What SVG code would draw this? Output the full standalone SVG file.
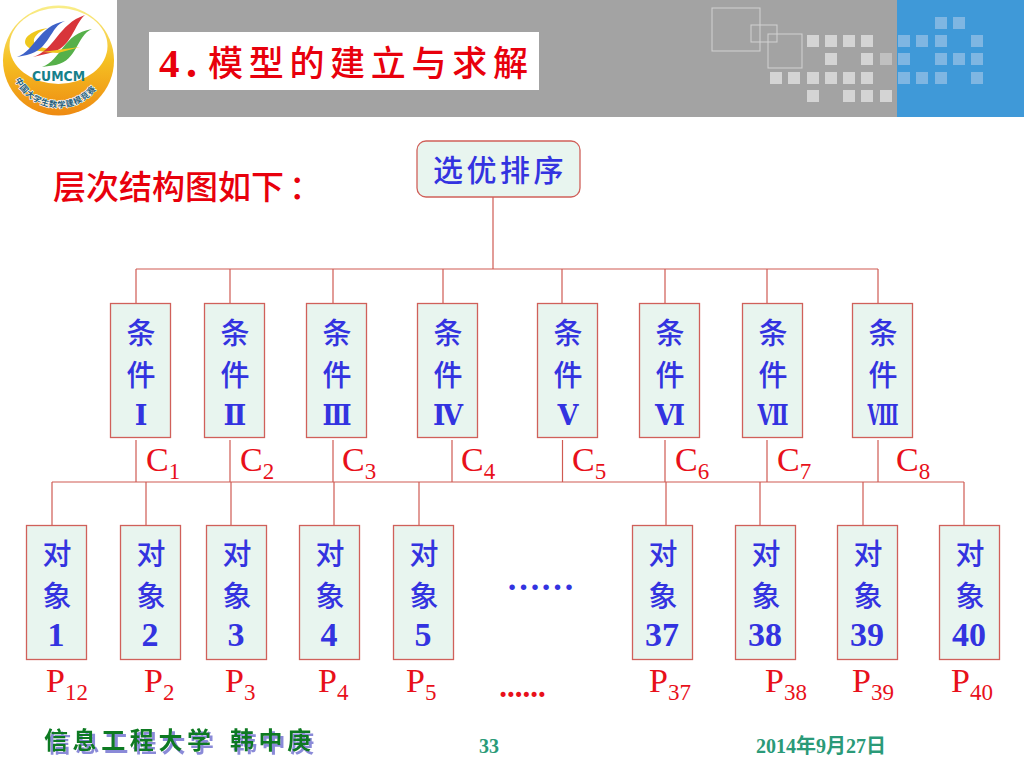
<svg xmlns="http://www.w3.org/2000/svg" width="1024" height="768" viewBox="0 0 1024 768">
<defs>
<linearGradient id="ring" x1="0" y1="0" x2="0" y2="1"><stop offset="0" stop-color="#f9ee8a"/><stop offset="0.5" stop-color="#f5c022"/><stop offset="1" stop-color="#ee8a12"/></linearGradient>
<path id="arc" d="M13 75 A48 48 0 0 0 104 75"/>
<filter id="shadow" x="-5%" y="-20%" width="110%" height="150%"><feDropShadow dx="3" dy="3" stdDeviation="0.6" flood-color="#8a8ad8"/></filter>
</defs>
<style>
.box{fill:#e8f5ef;stroke:#d0605a;stroke-width:1.3}
.cn{font-family:"Noto Sans CJK SC",sans-serif;font-weight:500;font-size:29px;fill:#3333e0;text-anchor:middle}
.num{font-family:"Liberation Serif",serif;font-weight:700;font-size:34px;fill:#3333e0;text-anchor:middle}
.rom{font-family:"DejaVu Serif",serif;font-weight:700;font-size:27px;fill:#3333e0;text-anchor:middle}
.lab{font-family:"Liberation Serif",serif;font-size:34px;fill:#e8101a}
.lab tspan{font-size:23px}
.sq{fill:#d4d4d4}.sb{fill:#7fb6e2}
.con line{stroke:#cf5a52;stroke-width:1.2}
</style>
<rect width="1024" height="768" fill="#fff"/>
<g id="header">
<rect x="117" y="0" width="780" height="117" fill="#a3a3a3"/>
<rect x="897" y="0" width="127" height="117" fill="#3f99d8"/>
<g fill="none" stroke="#d2d2d2" stroke-width="1"><rect x="712" y="8" width="48" height="43"/><rect x="751" y="25" width="26" height="17"/><rect x="768" y="34" width="34" height="34"/></g>
<g class="sq">
<rect x="807" y="35" width="12" height="12"/><rect x="825" y="35" width="12" height="12"/><rect x="843" y="35" width="12" height="12"/><rect x="861" y="35" width="12" height="12"/>
<rect x="825" y="53" width="12" height="12"/><rect x="861" y="53" width="12" height="12"/><rect x="880" y="53" width="12" height="12" opacity="0.6"/>
<rect x="770" y="72" width="12" height="12"/><rect x="788" y="72" width="12" height="12"/><rect x="807" y="72" width="12" height="12"/><rect x="825" y="72" width="12" height="12"/><rect x="843" y="72" width="12" height="12"/><rect x="861" y="72" width="12" height="12"/>
<rect x="807" y="90" width="12" height="12"/><rect x="843" y="90" width="12" height="12"/><rect x="861" y="90" width="12" height="12"/><rect x="880" y="90" width="12" height="12"/>
</g>
<g class="sb">
<rect x="935" y="17" width="12" height="12"/><rect x="953" y="17" width="12" height="12"/>
<rect x="898" y="35" width="12" height="12"/><rect x="916" y="35" width="12" height="12"/><rect x="935" y="35" width="12" height="12"/><rect x="971" y="35" width="12" height="12"/>
<rect x="898" y="53" width="12" height="12"/><rect x="935" y="53" width="12" height="12"/><rect x="953" y="53" width="12" height="12"/><rect x="971" y="53" width="12" height="12"/>
<rect x="898" y="72" width="12" height="12"/><rect x="916" y="72" width="12" height="12"/><rect x="935" y="72" width="12" height="12"/><rect x="971" y="72" width="12" height="12"/>
</g>
<rect x="149" y="32" width="390" height="58" fill="#fff"/>
<text x="159" y="77" font-family="Liberation Serif,serif" font-weight="700" font-size="41" fill="#e8000c">4</text>
<text x="186" y="77" font-family="Liberation Serif,serif" font-weight="700" font-size="44" fill="#e8000c">.</text>
<text x="208" y="76" font-family="Noto Sans CJK SC,sans-serif" font-weight="500" font-size="35" letter-spacing="5.700" fill="#e8000c">模型的建立与求解</text>
</g>
<g id="logo">
<ellipse cx="58.500" cy="60.500" rx="55.500" ry="55" fill="url(#ring)"/>
<ellipse cx="58.500" cy="46" rx="49" ry="38" fill="#fff"/>
<path d="M48 28 C32 30 22 38 26 45 C30 52 50 53 68 50 C52 50 36 48 34 42 C33 37 38 32 48 28Z" fill="#efc81e"/>
<path d="M17 57 C36 50 38 26 65 21 C50 26 50 50 27 55Z" fill="#3e62c8"/>
<path d="M33 57 C55 50 58 24 85 15 C74 24 72 48 50 53Z" fill="#d8353a"/>
<path d="M42 67 C62 60 62 34 92 29 C76 36 78 60 56 65Z" fill="#56b04a"/>
<path d="M42 52 L80 47 L58 53Z" fill="#efc81e"/>
<text x="58.500" y="81" font-family="DejaVu Sans,sans-serif" font-weight="700" font-size="14" textLength="53" lengthAdjust="spacingAndGlyphs" fill="#16808a" text-anchor="middle">CUMCM</text>
<text font-family="Noto Sans CJK SC,sans-serif" font-weight="700" font-size="8.500" fill="#27607a" stroke="#fff" stroke-width="1.2" paint-order="stroke"><textPath href="#arc" startOffset="5" textLength="98">中国大学生数学建模竞赛</textPath></text>
</g>
<text id="subtitle" x="53" y="199" font-family="Noto Sans CJK SC,sans-serif" font-weight="500" font-size="33" fill="#e8000c">层次结构图如下<tspan dx="5">：</tspan></text>
<g id="connectors" class="con">
<line x1="493" y1="193" x2="493" y2="269"/><line x1="136" y1="269" x2="878" y2="269"/>
<line x1="136" y1="269" x2="136" y2="303"/><line x1="230" y1="269" x2="230" y2="303"/><line x1="333" y1="269" x2="333" y2="303"/><line x1="443" y1="269" x2="443" y2="303"/><line x1="562" y1="269" x2="562" y2="303"/><line x1="665" y1="269" x2="665" y2="303"/><line x1="767" y1="269" x2="767" y2="303"/><line x1="878" y1="269" x2="878" y2="303"/>
<line x1="136" y1="440" x2="136" y2="482"/><line x1="230" y1="440" x2="230" y2="482"/><line x1="333" y1="440" x2="333" y2="482"/><line x1="452" y1="440" x2="452" y2="482"/><line x1="562.500" y1="440" x2="562.500" y2="482"/><line x1="665" y1="440" x2="665" y2="482"/><line x1="767" y1="440" x2="767" y2="482"/><line x1="878" y1="440" x2="878" y2="482"/>
<line x1="52" y1="482" x2="964" y2="482"/>
<line x1="52" y1="482" x2="52" y2="525"/><line x1="146" y1="482" x2="146" y2="525"/><line x1="231" y1="482" x2="231" y2="525"/><line x1="334" y1="482" x2="334" y2="525"/><line x1="419" y1="482" x2="419" y2="525"/><line x1="666" y1="482" x2="666" y2="525"/><line x1="760" y1="482" x2="760" y2="525"/><line x1="863" y1="482" x2="863" y2="525"/><line x1="964" y1="482" x2="964" y2="525"/>
</g>
<g id="root"><rect class="box" x="417" y="141" width="163" height="56" rx="9"/><text x="500" y="181" font-family="Noto Sans CJK SC,sans-serif" font-weight="500" font-size="30" letter-spacing="3.500" fill="#3333e0" text-anchor="middle">选优排序</text></g>
<g id="c1"><rect class="box" x="110.500" y="303.500" width="60" height="134"/><text class="cn" x="141" y="344">条</text><text class="cn" x="141" y="386">件</text><text class="rom" x="141" y="425">Ⅰ</text></g>
<g id="c2"><rect class="box" x="204.500" y="303.500" width="60" height="134"/><text class="cn" x="235" y="344">条</text><text class="cn" x="235" y="386">件</text><text class="rom" x="235" y="425">Ⅱ</text></g>
<g id="c3"><rect class="box" x="306.500" y="303.500" width="60" height="134"/><text class="cn" x="337" y="344">条</text><text class="cn" x="337" y="386">件</text><text class="rom" x="337" y="425" textLength="29" lengthAdjust="spacingAndGlyphs">Ⅲ</text></g>
<g id="c4"><rect class="box" x="417.500" y="303.500" width="60" height="134"/><text class="cn" x="448" y="344">条</text><text class="cn" x="448" y="386">件</text><text class="rom" x="448" y="425" textLength="30" lengthAdjust="spacingAndGlyphs">Ⅳ</text></g>
<g id="c5"><rect class="box" x="537.500" y="303.500" width="60" height="134"/><text class="cn" x="568" y="344">条</text><text class="cn" x="568" y="386">件</text><text class="rom" x="568" y="425">Ⅴ</text></g>
<g id="c6"><rect class="box" x="639.500" y="303.500" width="60" height="134"/><text class="cn" x="670" y="344">条</text><text class="cn" x="670" y="386">件</text><text class="rom" x="670" y="425" textLength="30" lengthAdjust="spacingAndGlyphs">Ⅵ</text></g>
<g id="c7"><rect class="box" x="742.500" y="303.500" width="60" height="134"/><text class="cn" x="773" y="344">条</text><text class="cn" x="773" y="386">件</text><text class="rom" x="773" y="425" textLength="31" lengthAdjust="spacingAndGlyphs">Ⅶ</text></g>
<g id="c8"><rect class="box" x="852.500" y="303.500" width="60" height="134"/><text class="cn" x="883" y="344">条</text><text class="cn" x="883" y="386">件</text><text class="rom" x="883" y="425" textLength="31" lengthAdjust="spacingAndGlyphs">Ⅷ</text></g>
<g id="clabels" class="lab">
<text x="146" y="471">C<tspan dy="8">1</tspan></text><text x="240" y="471">C<tspan dy="8">2</tspan></text><text x="342" y="471">C<tspan dy="8">3</tspan></text><text x="461" y="471">C<tspan dy="8">4</tspan></text><text x="572" y="471">C<tspan dy="8">5</tspan></text><text x="675" y="471">C<tspan dy="8">6</tspan></text><text x="777" y="471">C<tspan dy="8">7</tspan></text><text x="896" y="471">C<tspan dy="8">8</tspan></text>
</g>
<g id="p1"><rect class="box" x="26.500" y="525.500" width="60" height="134"/><text class="cn" x="57" y="565">对</text><text class="cn" x="57" y="607">象</text><text class="num" x="56" y="646">1</text></g>
<g id="p2"><rect class="box" x="120.500" y="525.500" width="60" height="134"/><text class="cn" x="151" y="565">对</text><text class="cn" x="151" y="607">象</text><text class="num" x="150" y="646">2</text></g>
<g id="p3"><rect class="box" x="206.500" y="525.500" width="60" height="134"/><text class="cn" x="237" y="565">对</text><text class="cn" x="237" y="607">象</text><text class="num" x="236" y="646">3</text></g>
<g id="p4"><rect class="box" x="299.500" y="525.500" width="60" height="134"/><text class="cn" x="330" y="565">对</text><text class="cn" x="330" y="607">象</text><text class="num" x="329" y="646">4</text></g>
<g id="p5"><rect class="box" x="393.500" y="525.500" width="60" height="134"/><text class="cn" x="424" y="565">对</text><text class="cn" x="424" y="607">象</text><text class="num" x="423" y="646">5</text></g>
<g id="p37"><rect class="box" x="632.500" y="525.500" width="60" height="134"/><text class="cn" x="663" y="565">对</text><text class="cn" x="663" y="607">象</text><text class="num" x="662" y="646">37</text></g>
<g id="p38"><rect class="box" x="735.500" y="525.500" width="60" height="134"/><text class="cn" x="766" y="565">对</text><text class="cn" x="766" y="607">象</text><text class="num" x="765" y="646">38</text></g>
<g id="p39"><rect class="box" x="837.500" y="525.500" width="60" height="134"/><text class="cn" x="868" y="565">对</text><text class="cn" x="868" y="607">象</text><text class="num" x="867" y="646">39</text></g>
<g id="p40"><rect class="box" x="939.500" y="525.500" width="60" height="134"/><text class="cn" x="970" y="565">对</text><text class="cn" x="970" y="607">象</text><text class="num" x="969" y="646">40</text></g>
<text x="540.500" y="590" font-family="Liberation Serif,serif" font-weight="700" font-size="34" fill="#3333e0" text-anchor="middle">……</text>
<g id="plabels" class="lab">
<text x="46" y="692">P<tspan dy="8">12</tspan></text><text x="144" y="692">P<tspan dy="8">2</tspan></text><text x="225" y="692">P<tspan dy="8">3</tspan></text><text x="318" y="692">P<tspan dy="8">4</tspan></text><text x="406" y="692">P<tspan dy="8">5</tspan></text><text x="649" y="692">P<tspan dy="8">37</tspan></text><text x="765" y="692">P<tspan dy="8">38</tspan></text><text x="852" y="692">P<tspan dy="8">39</tspan></text><text x="951" y="692">P<tspan dy="8">40</tspan></text>
</g>
<text x="522.500" y="697" font-family="Liberation Serif,serif" font-weight="700" font-size="31" fill="#e8101a" text-anchor="middle">......</text>
<g id="footer">
<text x="44" y="749" font-family="Noto Sans CJK SC,sans-serif" font-weight="700" font-size="24" letter-spacing="4.600" fill="#0f7a22" filter="url(#shadow)">信息工程大学<tspan x="230">韩中庚</tspan></text>
<text x="489" y="753" font-family="Liberation Serif,serif" font-weight="700" font-size="20" fill="#2a9a78" text-anchor="middle">33</text>
<text x="756" y="753" font-family="Liberation Serif,'Noto Sans CJK SC',serif" font-weight="700" font-size="20" fill="#2a9a78">2014年9月27日</text>
</g>
</svg>
